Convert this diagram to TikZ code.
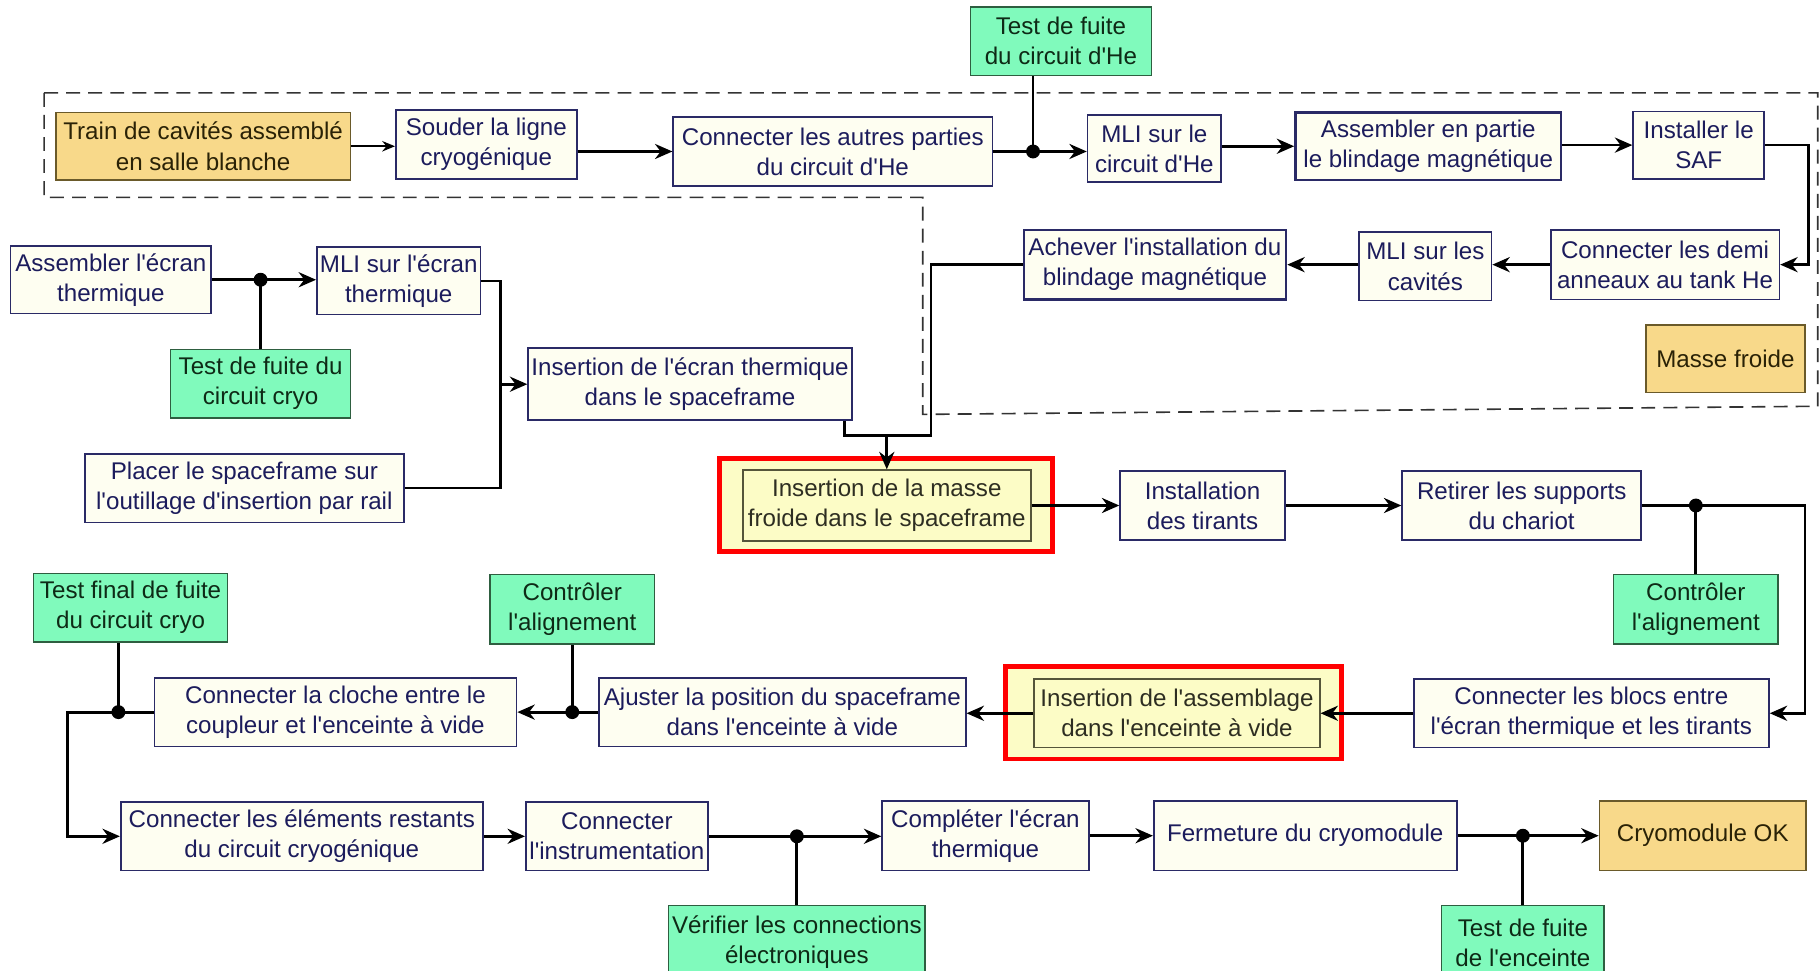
\documentclass[tikz,border=0pt]{standalone}
\usepackage{fontspec}
\setmainfont{Liberation Sans}[Ligatures=TeXOff]
\usetikzlibrary{arrows.meta}
\definecolor{navy}{HTML}{1C1C5C}
\definecolor{boxline}{HTML}{2A2A66}
\definecolor{cream}{HTML}{FEFEF1}
\definecolor{mint}{HTML}{80FABC}
\definecolor{greenline}{HTML}{2E5E40}
\definecolor{greentext}{HTML}{0E2A16}
\definecolor{sand}{HTML}{F8D98A}
\definecolor{sandline}{HTML}{6A5A2A}
\definecolor{sandtext}{HTML}{2A2206}
\definecolor{hl}{HTML}{FCFCC6}
\definecolor{hlline}{HTML}{55553A}
\definecolor{hltext}{HTML}{2E2E22}
\definecolor{dashc}{HTML}{333333}
\begin{document}
\begin{tikzpicture}[x=0.5pt,y=-0.5pt,
  box/.style={draw=boxline, fill=cream, text=navy, line width=0.7pt, inner sep=0pt, align=center,
              font=\fontsize{10.4}{13}\selectfont},
  gbox/.style={box, fill=mint, draw=greenline, text=greentext},
  ybox/.style={box, fill=sand, draw=sandline, text=sandtext},
  hbox/.style={box, fill=hl, draw=hlline, text=hltext},
  redbox/.style={draw=red, fill=hl, line width=2pt, inner sep=0pt},
  conn/.style={line width=1.2pt, black},
  arr/.style={conn, -{Stealth[length=7.5pt,width=6.5pt]}},
  thinarr/.style={line width=0.8pt, black, -{Stealth[length=5.5pt,width=4.5pt]}},
  jdot/.style={circle, fill=black, inner sep=0pt, minimum width=5pt, minimum height=6pt},
  region/.style={draw=dashc, line width=0.7pt, dash pattern=on 6pt off 3.5pt}
]
\useasboundingbox (0,0) rectangle (1568,836);
\clip (0,0) rectangle (1568,836);
\fill[white] (0,0) rectangle (1568,836);

% dashed region
\draw[region] (38,80) -- (1566,80) -- (1566,350) -- (795,357) -- (795,170) -- (38,170) -- cycle;

% highlight frames
\node[redbox, minimum width=143.5pt, minimum height=40pt] (hl1) at (763.5,435) {};
\node[redbox, minimum width=145pt, minimum height=40pt] (hl2) at (1011,614) {};

% row 1
\node[gbox, minimum width=78pt, minimum height=29.5pt] (testHe) at (914,35.5) {Test de fuite\\du circuit d'He};
\node[ybox, minimum width=127pt, minimum height=29pt] (train) at (175,126) {Train de cavités assemblé\\en salle blanche};
\node[box, minimum width=78pt, minimum height=29.5pt] (souder) at (419,124.5) {Souder la ligne\\cryogénique};
\node[box, minimum width=137.5pt, minimum height=29.5pt] (autres) at (717.5,130.5) {Connecter les autres parties\\du circuit d'He};
\node[box, minimum width=57.5pt, minimum height=29pt] (mliHe) at (994.5,128) {MLI sur le\\circuit d'He};
\node[box, line width=1pt, minimum width=114.5pt, minimum height=29pt] (assPartie) at (1230.5,126) {Assembler en partie\\le blindage magnétique};
\node[box, minimum width=56.5pt, minimum height=29pt] (saf) at (1463.5,125) {Installer le\\SAF};

% row 2 right
\node[box, minimum width=98.5pt, minimum height=30pt] (demi) at (1434.5,228) {Connecter les demi\\anneaux au tank He};
\node[box, minimum width=57pt, minimum height=29.5pt] (mliCav) at (1228,229.5) {MLI sur les\\cavités};
\node[box, line width=1pt, minimum width=113pt, minimum height=30pt] (achever) at (995,228) {Achever l'installation du\\blindage magnétique};
\node[ybox, minimum width=68.5pt, minimum height=29pt] (masse) at (1486.5,309) {Masse froide};

% row 2 left
\node[box, minimum width=86.5pt, minimum height=29pt] (assEcran) at (95.5,241) {Assembler l'écran\\thermique};
\node[box, minimum width=70.5pt, minimum height=29pt] (mliEcran) at (343.5,242) {MLI sur l'écran\\thermique};
\node[gbox, minimum width=77.5pt, minimum height=29.5pt] (testCryo) at (224.5,330.5) {Test de fuite du\\circuit cryo};
\node[box, minimum width=137.5pt, minimum height=29.5pt] (placer) at (210.5,420.5) {Placer le spaceframe sur\\l'outillage d'insertion par rail};
\node[box, minimum width=139.5pt, minimum height=31pt] (insEcran) at (594.5,331) {Insertion de l'écran thermique\\dans le spaceframe};

% row 3
\node[hbox, minimum width=124pt, minimum height=30.5pt] (insMasse) at (764,435.5) {Insertion de la masse\\froide dans le spaceframe};
\node[box, minimum width=71pt, minimum height=29.5pt] (tirants) at (1036,435.5) {Installation\\des tirants};
\node[box, minimum width=103pt, minimum height=29.5pt] (retirer) at (1311,435.5) {Retirer les supports\\du chariot};
\node[gbox, minimum width=71pt, minimum height=30pt] (ctrlR) at (1461,525) {Contrôler\\l'alignement};

% row 4
\node[box, minimum width=153pt, minimum height=29.5pt] (blocs) at (1371,614.5) {Connecter les blocs entre\\l'écran thermique et les tirants};
\node[hbox, minimum width=123pt, minimum height=29.5pt] (insAss) at (1014,614.5) {Insertion de l'assemblage\\dans l'enceinte à vide};
\node[box, minimum width=158pt, minimum height=29.5pt] (ajuster) at (674,613.5) {Ajuster la position du spaceframe\\dans l'enceinte à vide};
\node[gbox, minimum width=71pt, minimum height=30pt] (ctrlL) at (493,525) {Contrôler\\l'alignement};
\node[box, minimum width=156pt, minimum height=29.5pt] (cloche) at (289,613.5) {Connecter la cloche entre le\\coupleur et l'enceinte à vide};
\node[gbox, minimum width=83.5pt, minimum height=29.5pt] (testFinal) at (112.5,523.5) {Test final de fuite\\du circuit cryo};

% row 5
\node[box, minimum width=156pt, minimum height=29.5pt] (elements) at (260,720.5) {Connecter les éléments restants\\du circuit cryogénique};
\node[box, minimum width=78.5pt, minimum height=29.5pt] (instr) at (531.5,720.5) {Connecter\\l'instrumentation};
\node[box, minimum width=89pt, minimum height=30pt] (completer) at (849,720) {Compléter l'écran\\thermique};
\node[box, minimum width=130.5pt, minimum height=30pt] (fermeture) at (1124.5,720) {Fermeture du cryomodule};
\node[ybox, minimum width=89pt, minimum height=30pt] (ok) at (1467,720) {Cryomodule OK};
\node[gbox, minimum width=110.5pt, minimum height=32pt] (verifier) at (686.5,812) {Vérifier les connections\\électroniques};
\node[gbox, minimum width=70pt, minimum height=32pt] (testEnc) at (1312,812) {Test de fuite\\de l'enceinte};

% ---- connectors ----
% row 1
\draw[thinarr] (train.east) -- (souder.west |- train.east);
\draw[arr] (souder.east |- autres.west) -- (autres.west);
\node[jdot] (d1) at (890,130.5) {};
\draw[conn] (testHe.south -| d1) -- (d1.center);
\draw[arr] (autres.east) -- (mliHe.west |- autres.east);
\draw[arr] (mliHe.east |- assPartie.west) -- (assPartie.west);
\draw[arr] (assPartie.east |- saf.west) -- (saf.west);
\draw[arr] (saf.east) -- (1558,125) |- (demi.east);

% row 2
\draw[arr] (demi.west) -- (mliCav.east |- demi.west);
\draw[arr] (mliCav.west |- achever.east) -- (achever.east);
\coordinate (m1) at (764,375);
\draw[conn] (achever.west) -| (802,375) -- (m1);
\draw[conn] (insEcran.south east) ++(-7,0) |- (m1);
\draw[arr] (m1) -- (insMasse.north);

\node[jdot] (d2) at (testCryo.north |- assEcran.east) {};
\draw[conn] (testCryo.north) -- (d2.center);
\draw[arr] (assEcran.east) -- (mliEcran.west |- assEcran.east);
\coordinate (j3) at (431,331);
\draw[conn] (mliEcran.east) -| (j3);
\draw[conn] (placer.east) -| (j3);
\draw[arr] (j3) -- (insEcran.west);

% row 3
\draw[arr] (insMasse.east) -- (tirants.west);
\draw[arr] (tirants.east) -- (retirer.west);
\node[jdot] (d3) at (ctrlR.north |- retirer.east) {};
\draw[conn] (ctrlR.north) -- (d3.center);
\draw[arr] (retirer.east) -- (1555,435.5) |- (blocs.east);

% row 4
\draw[arr] (blocs.west) -- (insAss.east);
\draw[arr] (insAss.west) -- (ajuster.east |- insAss.west);
\node[jdot] (d5) at (ctrlL.south |- ajuster.west) {};
\draw[conn] (ctrlL.south) -- (d5.center);
\draw[arr] (ajuster.west) -- (cloche.east |- ajuster.west);
\node[jdot] (d4) at (102,613.5) {};
\draw[conn] (testFinal.south -| d4) -- (d4.center);
\draw[arr] (cloche.west) -- (58,613.5) |- (elements.west);

% row 5
\draw[arr] (elements.east) -- (instr.west);
\node[jdot] (d6) at (verifier.north |- instr.east) {};
\draw[conn] (verifier.north) -- (d6.center);
\draw[arr] (instr.east) -- (completer.west |- instr.east);
\draw[arr] (completer.east) -- (fermeture.west);
\node[jdot] (d7) at (testEnc.north |- fermeture.east) {};
\draw[conn] (testEnc.north) -- (d7.center);
\draw[arr] (fermeture.east) -- (ok.west);
\end{tikzpicture}
\end{document}
